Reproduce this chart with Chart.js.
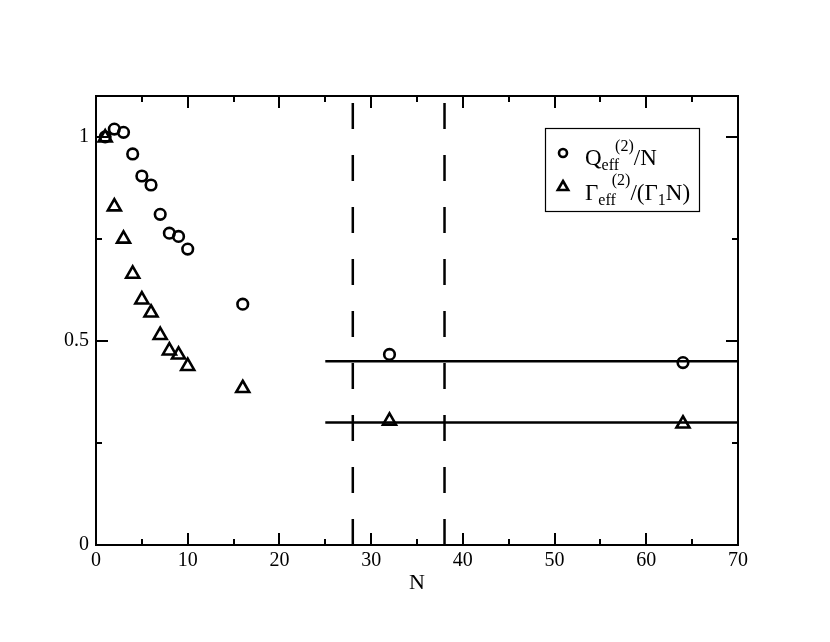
<!DOCTYPE html>
<html>
<head>
<meta charset="utf-8">
<script src="https://cdn.jsdelivr.net/npm/chart.js@4.4.0/dist/chart.umd.min.js"></script>
<style>
html,body{margin:0;padding:0;background:#fff;}
#wrap{width:830px;height:642px;}
</style>
</head>
<body>
<div id="wrap"><canvas id="c" width="830" height="642"></canvas></div>
<script>
// ---- data ----
const N_vals = [1, 2, 3, 4, 5, 6, 7, 8, 9, 10, 16, 32, 64];
const Q_vals = [1.000, 1.019, 1.011, 0.958, 0.904, 0.882, 0.810, 0.764, 0.756, 0.725, 0.590, 0.467, 0.447];
const G_vals = [0.998, 0.829, 0.750, 0.664, 0.601, 0.569, 0.514, 0.476, 0.466, 0.438, 0.384, 0.304, 0.297];
const plateauQ = 0.45;
const plateauG = 0.30;
const plateauX = [25, 70];
const dashedX = [28, 38];
const xRange = [0, 70];
const yRange = [0, 1.1];
const xMajor = 10, xMinor = 5;
const yMajor = 0.5, yMinor = 0.25;

const serif = "'Liberation Serif', 'DejaVu Serif', serif";

function pts(xs, ys){ return xs.map((x,i)=>({x:x, y:ys[i]})); }

const datasets = [
  { label:'Q', data: pts(N_vals, Q_vals), pointStyle:'circle', pointRadius:5.3,
    pointBorderWidth:2.6, borderColor:'#000', backgroundColor:'rgba(0,0,0,0)', showLine:false },
  { label:'G', data: pts(N_vals, G_vals), pointStyle:'triangle', pointRadius:7.5,
    pointBorderWidth:2.6, borderColor:'#000', backgroundColor:'rgba(0,0,0,0)', showLine:false },
  { label:'pQ', data: pts(plateauX, [plateauQ, plateauQ]), showLine:true, pointRadius:0,
    borderColor:'#000', borderWidth:2.5 },
  { label:'pG', data: pts(plateauX, [plateauG, plateauG]), showLine:true, pointRadius:0,
    borderColor:'#000', borderWidth:2.5 }
];
dashedX.forEach(x=>{
  datasets.push({ label:'d'+x, data: pts([x,x], yRange), showLine:true, pointRadius:0,
    borderColor:'#000', borderWidth:2.5, borderDash:[26,26], borderDashOffset:0 });
});

function near(v, step){ return Math.abs(v/step - Math.round(v/step)) < 1e-6; }

const framePlugin = {
  id:'frame',
  afterDraw(chart){
    const ctx = chart.ctx, a = chart.chartArea;
    const xs = chart.scales.x, ys = chart.scales.y;
    ctx.save();
    ctx.strokeStyle = '#000';
    ctx.lineWidth = 2;
    ctx.strokeRect(a.left, a.top, a.right - a.left, a.bottom - a.top);
    // x ticks (bottom & top, inward)
    for (let v = xRange[0]; v <= xRange[1] + 1e-9; v += xMinor){
      const len = near(v, xMajor) ? 12 : 6;
      const px = Math.round(xs.getPixelForValue(v));
      ctx.beginPath();
      ctx.moveTo(px, a.bottom); ctx.lineTo(px, a.bottom - len);
      ctx.moveTo(px, a.top); ctx.lineTo(px, a.top + len);
      ctx.stroke();
    }
    for (let v = yRange[0]; v <= yRange[1] + 1e-9; v += yMinor){
      const len = near(v, yMajor) ? 12 : 6;
      const py = Math.round(ys.getPixelForValue(v));
      ctx.beginPath();
      ctx.moveTo(a.left, py); ctx.lineTo(a.left + len, py);
      ctx.moveTo(a.right, py); ctx.lineTo(a.right - len, py);
      ctx.stroke();
    }
    // axis title
    ctx.fillStyle = '#000';
    ctx.font = "22px " + serif;
    ctx.textAlign = 'center';
    ctx.textBaseline = 'middle';
    ctx.fillText('N', (a.left + a.right)/2, a.bottom + 38);

    // legend
    const bx = a.right - 193, by = a.top + 32, bw = 154, bh = 83;
    ctx.lineWidth = 1.2;
    ctx.strokeRect(bx + 0.5, by + 0.5, bw, bh);
    const mx = bx + 18;
    const y1 = by + 25, y2 = by + 59;
    ctx.lineWidth = 2.6;
    ctx.beginPath(); ctx.arc(mx, y1, 4, 0, Math.PI*2); ctx.stroke();
    const r = 6;
    ctx.beginPath();
    ctx.moveTo(mx, y2 - r);
    ctx.lineTo(mx + r*0.866, y2 + r*0.5);
    ctx.lineTo(mx - r*0.866, y2 + r*0.5);
    ctx.closePath(); ctx.stroke();

    const big = "23px " + serif, small = "16px " + serif;
    ctx.textAlign = 'left';
    ctx.textBaseline = 'alphabetic';
    function drawSegs(x, base, segs){
      segs.forEach(s=>{
        ctx.font = s.big ? big : small;
        x += (s.dx || 0);
        ctx.fillText(s.t, x, base + (s.dy || 0));
        x += ctx.measureText(s.t).width;
      });
    }
    drawSegs(bx + 40, by + 37, [
      {t:'Q', big:true}, {t:'eff', dy:5}, {t:'(2)', dy:-14, dx:-4}, {t:'/N', big:true}
    ]);
    drawSegs(bx + 40, by + 72, [
      {t:'\u0393', big:true}, {t:'eff', dy:5}, {t:'(2)', dy:-15, dx:-4}, {t:'/(\u0393', big:true},
      {t:'1', dy:5}, {t:'N)', big:true}
    ]);
    ctx.restore();
  }
};

new Chart(document.getElementById('c'), {
  type:'scatter',
  data:{ datasets: datasets },
  options:{
    responsive:false,
    animation:false,
    devicePixelRatio:1,
    layout:{ padding:{ top:96, right:92, left:0, bottom:0 } },
    plugins:{ legend:{display:false}, tooltip:{enabled:false} },
    scales:{
      x:{
        type:'linear', min:xRange[0], max:xRange[1],
        grid:{display:false, drawTicks:false}, border:{display:false},
        ticks:{ stepSize:xMajor, color:'#000', padding:4, maxRotation:0,
          font:{family:serif, size:20},
          callback:(v)=> near(v, xMajor) ? String(Math.round(v)) : '' },
        afterFit:(s)=>{ s.height = 97; }
      },
      y:{
        type:'linear', min:yRange[0], max:yRange[1],
        grid:{display:false, drawTicks:false}, border:{display:false},
        ticks:{ stepSize:yMajor, color:'#000', padding:7,
          font:{family:serif, size:20},
          callback:(v)=> near(v, yMajor) ? String(Math.round(v*10)/10) : '' },
        afterFit:(s)=>{ s.width = 96; }
      }
    }
  },
  plugins:[framePlugin]
});
</script>
</body>
</html>
